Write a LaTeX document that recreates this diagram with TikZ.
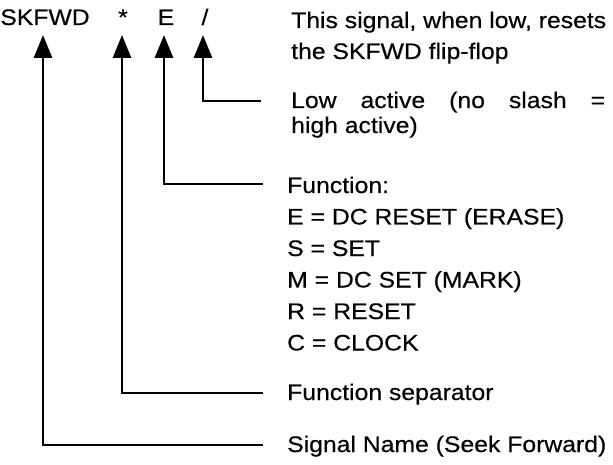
\documentclass[tikz,border=0pt]{standalone}
\usepackage{fontspec}
\setmainfont{Liberation Sans}[FakeStretch=1.1,FakeBold=0.4]
\usetikzlibrary{arrows.meta}
\begin{document}
\begin{tikzpicture}[x=1pt,y=-1pt,
  txt/.style={inner sep=0pt,anchor=base west,font=\fontsize{22.5}{26}\selectfont},
  top/.style={inner sep=0pt,anchor=base,font=\fontsize{22.5}{26}\selectfont},
  conn/.style={line width=2.8pt,-{Triangle[length=23pt,width=18pt]}}]
\useasboundingbox (0,0) rectangle (613,465);
% top labels
\node[top] (skfwd) at (45,25) {SKFWD};
\node[top] (ast) at (123,25) {*};
\node[top] (e) at (166,25) {E};
\node[top] (sl) at (205,25) {/};
% explanation texts
\node[txt] (t1) at (291,28) {This signal, when low, resets};
\node[txt] (t2) at (291,59) {the SKFWD flip-flop};
\node[txt] (l1) at (291,108) {\makebox[314pt][s]{Low active (no slash =}};
\node[txt] (l2) at (291,133) {high active)};
\node[txt] (f0) at (287,193) {Function:};
\node[txt] (f1) at (287,224.5) {E = DC RESET (ERASE)};
\node[txt] (f2) at (287,256) {S = SET};
\node[txt] (f3) at (287,287.5) {M = DC SET (MARK)};
\node[txt] (f4) at (287,319) {R = RESET};
\node[txt] (f5) at (287,350.5) {C = CLOCK};
\node[txt] (fs) at (287,400) {Function separator};
\node[txt] (sn) at (287,452) {Signal Name (Seek Forward)};
% connector points
\coordinate (tipS) at (43,35);
\coordinate (tipA) at (122,35);
\coordinate (tipE) at (164,35);
\coordinate (tipL) at (203,35);
\coordinate (endS) at (263,445);
\coordinate (endA) at (263,393);
\coordinate (endE) at (263,184);
\coordinate (endL) at (261,101);
\draw[conn] (endS) -| (tipS);
\draw[conn] (endA) -| (tipA);
\draw[conn] (endE) -| (tipE);
\draw[conn] (endL) -| (tipL);
\end{tikzpicture}
\end{document}
